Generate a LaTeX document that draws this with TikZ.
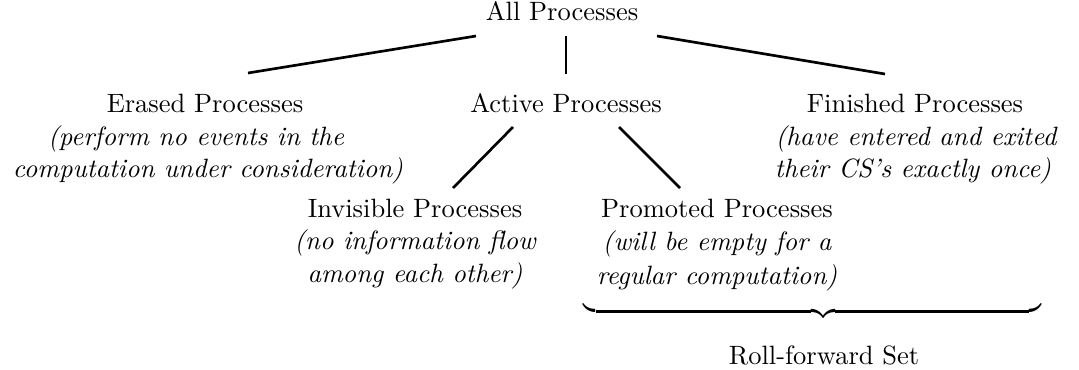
\documentclass[tikz,border=0pt]{standalone}
% under-brace with its cusp set a little right of centre
\newcommand{\rollbrace}[1]{\hbox to #1{$\setbox0\hbox{$\braceld$}%
  \bracelu\leaders\vrule height\ht0 depth0pt\hskip 0pt plus 1.111fill
  \bracerd\braceld\leaders\vrule height\ht0 depth0pt\hskip 0pt plus 1fill
  \braceru$}}
\begin{document}
\begin{tikzpicture}[x=0.3774pt,y=-0.3774pt,
  lbl/.style={inner sep=0pt,anchor=base,font=\fontsize{10}{12}\selectfont},
  note/.style={lbl,font=\fontsize{10}{12}\selectfont\itshape},
  link/.style={line width=1.0pt},
  bracebox/.style={inner sep=0pt,anchor=north}]
\useasboundingbox (0,0) rectangle (1079,369);

% root
\node[lbl] (all) at (562,20) {All Processes};

% second level
\node[lbl] (erased) at (205,112) {Erased Processes};
\node[note] (erased1) at (196,145) {(perform no events in the};
\node[note] (erased2) at (208,177) {computation under consideration)};

\node[lbl] (active) at (566,112) {Active Processes};

\node[lbl] (finished) at (915,112) {Finished Processes};
\node[note] (finished1) at (916,145) {(have entered and exited};
\node[note] (finished2) at (913,177) {their CS's exactly once)};

% third level
\node[lbl] (invisible) at (415,217) {Invisible Processes};
\node[note] (invisible1) at (415,249) {(no information flow};
\node[note] (invisible2) at (415,282) {among each other)};

\node[lbl] (promoted) at (717,217) {Promoted Processes};
\node[note] (promoted1) at (717,250) {(will be empty for a};
\node[note] (promoted2) at (717,284) {regular computation)};

% connector ends
\coordinate (allL) at (476,36);
\coordinate (allM) at (566,36);
\coordinate (allR) at (657,36);
\coordinate (erasedT) at (248,73);
\coordinate (activeT) at (566,74);
\coordinate (finishedT) at (885,74);
\coordinate (activeL) at (513,127);
\coordinate (activeR) at (619,127);
\coordinate (invisibleT) at (453,188);
\coordinate (promotedT) at (680,188);

\draw[link] (allL) -- (erasedT);
\draw[link] (allM) -- (activeT);
\draw[link] (allR) -- (finishedT);
\draw[link] (activeL) -- (invisibleT);
\draw[link] (activeR) -- (promotedT);

% roll-forward brace under the promoted and finished columns
\node[bracebox] (brace) at (812.5,309) {\rollbrace{172.5pt}};
\node[lbl] (roll) at (824,364) {Roll-forward Set};
\end{tikzpicture}
\end{document}
